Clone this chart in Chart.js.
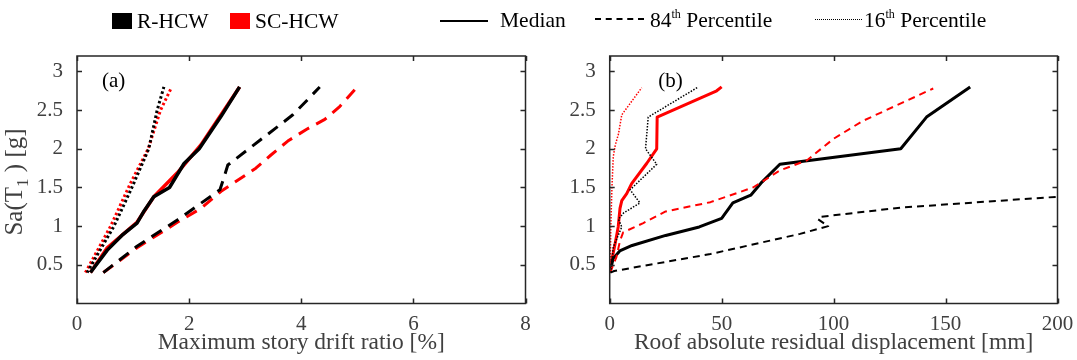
<!DOCTYPE html>
<html>
<head>
<meta charset="utf-8">
<script src="https://cdn.jsdelivr.net/npm/chart.js@4.4.0/dist/chart.umd.min.js"></script>
<style>
  body { margin: 0; background: #fff; }
  #wrap { position: relative; width: 1077px; height: 360px; overflow: hidden; font-family: "Liberation Serif", "Times New Roman", serif; }
  #left { position: absolute; left: 0; top: 0; }
  #right { position: absolute; left: 540px; top: 0; }
  .lg { position: absolute; font-size: 21.5px; line-height: 21.5px; color: #000; white-space: nowrap; }
  .lg sup { font-size: 12px; vertical-align: 9px; line-height: 0; }
  .sw { position: absolute; }
</style>
</head>
<body>
<div id="wrap">
  <canvas id="left" width="540" height="360"></canvas>
  <canvas id="right" width="537" height="360"></canvas>

  <div class="sw" style="left:112px;top:13px;width:20px;height:16px;background:#000"></div>
  <div class="lg" style="left:137px;top:10.5px">R-HCW</div>
  <div class="sw" style="left:230px;top:13px;width:20px;height:16px;background:#f00"></div>
  <div class="lg" style="left:255px;top:10.5px">SC-HCW</div>

  <div class="sw" style="left:440px;top:19.5px;width:48px;border-top:2.5px solid #000"></div>
  <div class="lg" style="left:500px;top:9.5px">Median</div>
  <div class="sw" style="left:595px;top:18px;width:49px;border-top:2px dashed #000"></div>
  <div class="lg" style="left:650px;top:10px">84<sup>th</sup> Percentile</div>
  <div class="sw" style="left:815px;top:18.5px;width:47px;border-top:1px dotted #000"></div>
  <div class="lg" style="left:864px;top:10px">16<sup>th</sup> Percentile</div>
</div>
<script>
// Sa(T1) levels differ slightly per curve, so each curve keeps its own x/y lists.

// (a) maximum story drift ratio [%]
const aBlackMedX = [0.24, 0.54, 0.80, 1.07, 1.20, 1.37, 1.65, 1.91, 2.18, 2.57, 2.90];
const aBlackMedY = [0.40, 0.69, 0.88, 1.04, 1.20, 1.38, 1.50, 1.81, 2.00, 2.42, 2.80];
const aRedMedX = [0.24, 0.54, 1.07, 1.37, 1.79, 2.21, 2.90];
const aRedMedY = [0.40, 0.72, 1.05, 1.38, 1.69, 2.05, 2.80];
const aBlack84X = [0.47, 1.07, 1.79, 2.55, 2.60, 2.69, 2.78, 3.28, 3.55, 3.85, 4.12, 4.33];
const aBlack84Y = [0.40, 0.74, 1.08, 1.47, 1.58, 1.79, 1.84, 2.12, 2.27, 2.44, 2.64, 2.80];
const aRed84X = [0.47, 1.07, 1.79, 2.21, 2.57, 3.19, 3.46, 3.76, 4.09, 4.42, 4.69, 5.00];
const aRed84Y = [0.40, 0.72, 1.05, 1.23, 1.45, 1.75, 1.92, 2.10, 2.25, 2.38, 2.55, 2.80];
const aBlack16X = [0.18, 0.66, 0.98, 1.28, 1.43, 1.55];
const aBlack16Y = [0.40, 1.00, 1.50, 2.00, 2.50, 2.80];
const aRed16X = [0.15, 0.60, 0.95, 1.27, 1.49, 1.67];
const aRed16Y = [0.40, 1.00, 1.55, 2.00, 2.50, 2.77];

// (b) roof absolute residual displacement [mm]
const bBlackMedX = [0.1, 1.5, 4.5, 10, 25, 40, 50, 55, 63, 68, 76, 130, 141.5, 161];
const bBlackMedY = [0.40, 0.58, 0.68, 0.75, 0.88, 0.99, 1.10, 1.30, 1.40, 1.57, 1.80, 2.00, 2.41, 2.80];
const bRedMedX = [0.1, 0.9, 2.4, 3.8, 4.6, 5.4, 7.6, 9.8, 16.5, 21, 21.2, 47.8, 50];
const bRedMedY = [0.40, 0.56, 0.77, 0.99, 1.23, 1.33, 1.42, 1.55, 1.81, 2.00, 2.41, 2.75, 2.80];
const bBlack84X = [0.3, 2, 45, 85, 97.6, 93, 94, 130, 200];
const bBlack84Y = [0.40, 0.42, 0.64, 0.90, 1.00, 1.09, 1.12, 1.24, 1.38];
const bRed84X = [0.2, 3, 4.6, 6, 15, 25, 45, 64, 76, 88, 100, 113, 131, 144.5];
const bRed84Y = [0.40, 0.60, 0.81, 0.92, 1.04, 1.19, 1.31, 1.50, 1.72, 1.85, 2.13, 2.36, 2.60, 2.78];
const bBlack16X = [0.5, 1.6, 5.4, 3.9, 6.2, 13.5, 9.1, 21, 16, 17.2, 39.6];
const bBlack16Y = [0.40, 0.73, 0.99, 1.09, 1.17, 1.30, 1.47, 1.80, 2.00, 2.41, 2.80];
const bRed16X = [0.2, 0.5, 1.0, 1.6, 2.5, 3.9, 5.4, 14.3];
const bRed16Y = [0.40, 1.00, 1.50, 1.90, 2.05, 2.19, 2.44, 2.79];

const yTicks = [0.5, 1, 1.5, 2, 2.5, 3];
const aXTicks = [0, 2, 4, 6, 8];
const bXTicks = [0, 50, 100, 150, 200];

const pts = (xs, ys) => xs.map((v, i) => ({ x: v, y: ys[i] }));
const line = (xs, ys, color, width, dash) => ({
  data: pts(xs, ys), borderColor: color, backgroundColor: color,
  borderWidth: width, borderDash: dash, showLine: true, pointRadius: 0, tension: 0,
  borderCapStyle: 'butt', borderJoinStyle: 'round'
});

const GREY = '#404040';
const SERIF = '"Liberation Serif", "Times New Roman", serif';

// box, inward ticks on all sides, panel tag and axis titles (MATLAB look)
const boxPlugin = {
  id: 'box',
  afterDraw(chart, args, opts) {
    const { ctx, chartArea: a, scales: { x, y } } = chart;
    ctx.save();
    ctx.strokeStyle = '#262626';
    ctx.lineWidth = 1.5;
    ctx.strokeRect(a.left, a.top, a.right - a.left, a.bottom - a.top);
    const L = 5;
    ctx.beginPath();
    x.ticks.forEach(t => {
      const px = Math.round(x.getPixelForValue(t.value)) + 0.5;
      ctx.moveTo(px, a.bottom); ctx.lineTo(px, a.bottom - L);
      ctx.moveTo(px, a.top); ctx.lineTo(px, a.top + L);
    });
    y.ticks.forEach(t => {
      const py = Math.round(y.getPixelForValue(t.value)) + 0.5;
      ctx.moveTo(a.left, py); ctx.lineTo(a.left + L, py);
      ctx.moveTo(a.right, py); ctx.lineTo(a.right - L, py);
    });
    ctx.stroke();

    ctx.fillStyle = '#000';
    ctx.font = '21px ' + SERIF;
    ctx.textBaseline = 'alphabetic';
    ctx.textAlign = 'left';
    ctx.fillText(opts.tag, a.left + opts.tagDx, a.top + 31);

    ctx.fillStyle = GREY;
    ctx.font = '23.5px ' + SERIF;
    ctx.textAlign = 'center';
    ctx.fillText(opts.xTitle, (a.left + a.right) / 2, 349);

    if (opts.yTitle) {
      ctx.translate(22, 182);
      ctx.rotate(-Math.PI / 2);
      ctx.textAlign = 'left';
      const big = '25px ' + SERIF, small = '17px ' + SERIF;
      ctx.font = big; const w1 = ctx.measureText('Sa(T').width;
      ctx.font = small; const w2 = ctx.measureText('1').width;
      ctx.font = big; const w3 = ctx.measureText(' ) [g]').width;
      let sx = -(w1 + w2 + w3) / 2;
      ctx.font = big; ctx.fillText('Sa(T', sx, 0); sx += w1;
      ctx.font = small; ctx.fillText('1', sx, 6); sx += w2;
      ctx.font = big; ctx.fillText(' ) [g]', sx, 0);
    }
    ctx.restore();
  }
};

function makeChart(id, datasets, xMax, xTicks, yAxisWidth, rightPad, box) {
  return new Chart(document.getElementById(id), {
    type: 'scatter',
    data: { datasets },
    options: {
      responsive: false,
      animation: false,
      devicePixelRatio: 1,
      layout: { padding: { top: 56, right: rightPad, left: 0, bottom: 0 } },
      plugins: { legend: { display: false }, tooltip: { enabled: false }, box },
      scales: {
        x: {
          type: 'linear', min: 0, max: xMax,
          afterBuildTicks: s => { s.ticks = xTicks.map(v => ({ value: v })); },
          afterFit: s => { s.height = 56.5; },
          grid: { display: false }, border: { display: false },
          ticks: { color: GREY, font: { family: SERIF, size: 21 }, padding: 0, maxRotation: 0,
                   callback: v => String(v) }
        },
        y: {
          type: 'linear', min: 0, max: 3.2,
          afterBuildTicks: s => { s.ticks = yTicks.map(v => ({ value: v })); },
          afterFit: s => { s.width = yAxisWidth; },
          grid: { display: false }, border: { display: false },
          ticks: { color: GREY, font: { family: SERIF, size: 21 }, padding: 6,
                   callback: v => String(v) }
        }
      }
    },
    plugins: [boxPlugin]
  });
}

makeChart('left', [
  line(aBlack16X, aBlack16Y, '#000', 3, [2.5, 2.5]),
  line(aRed16X, aRed16Y, '#f00', 3, [2.5, 2.5]),
  line(aBlack84X, aBlack84Y, '#000', 3, [12, 8]),
  line(aRed84X, aRed84Y, '#f00', 3, [12, 8]),
  line(aBlackMedX, aBlackMedY, '#000', 3.5, []),
  line(aRedMedX, aRedMedY, '#f00', 3.5, [])
], 8, aXTicks, 77, 14.5, { tag: '(a)', tagDx: 25, xTitle: 'Maximum story drift ratio [%]', yTitle: true });

makeChart('right', [
  line(bBlack16X, bBlack16Y, '#000', 1.5, [1.5, 1.5]),
  line(bRed16X, bRed16Y, '#f00', 1.5, [1.5, 1.5]),
  line(bBlack84X, bBlack84Y, '#000', 2, [7, 5]),
  line(bRed84X, bRed84Y, '#f00', 2, [7, 5]),
  line(bBlackMedX, bBlackMedY, '#000', 3, []),
  line(bRedMedX, bRedMedY, '#f00', 3, [])
], 200, bXTicks, 69.7, 19.5, { tag: '(b)', tagDx: 48.5, xTitle: 'Roof absolute residual displacement [mm]', yTitle: false });
</script>
</body>
</html>
